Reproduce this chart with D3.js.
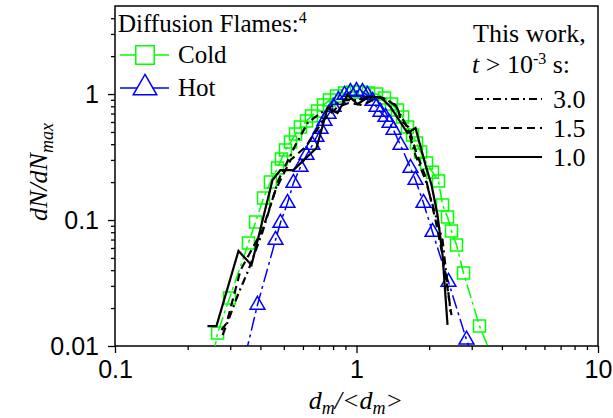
<!DOCTYPE html>
<html>
<head>
<meta charset="utf-8">
<script src="https://cdn.jsdelivr.net/npm/d3@7.9.0/dist/d3.min.js"></script>
<style>
  html, body { margin: 0; padding: 0; background: #fff; }
  svg { display: block; }
  .tick text { font-family: "Liberation Sans", Arial, sans-serif; font-size: 25px; fill: #000; }
  .serif { font-family: "Liberation Serif", "Times New Roman", serif; fill: #000; }
</style>
</head>
<body>
<svg id="chart" width="613" height="418"></svg>
<script>
// Diffusion flames (ref. 4)
const coldX = [0.256, 0.266, 0.298, 0.357, 0.382, 0.412, 0.440, 0.471, 0.489, 0.508, 0.533, 0.559, 0.586, 0.621, 0.651,
  0.690, 0.730, 0.773, 0.826, 0.892, 0.963, 1.039, 1.121, 1.210, 1.306, 1.396, 1.478, 1.551, 1.626, 1.706, 1.772,
  1.841, 1.950, 2.064, 2.185, 2.271, 2.382, 2.474, 2.595, 2.774, 3.231, 3.59];
const coldY = [0.0085, 0.0127, 0.0240, 0.0657, 0.0964, 0.1495, 0.200, 0.259, 0.305, 0.359, 0.416, 0.481, 0.547, 0.611, 0.669,
  0.733, 0.818, 0.896, 0.964, 1.018, 1.037, 1.037, 1.018, 1.0, 0.930, 0.833, 0.746, 0.657, 0.547, 0.473, 0.408,
  0.347, 0.283, 0.240, 0.204, 0.1315, 0.1056, 0.0818, 0.0633, 0.0380, 0.0144, 0.0088];
const hotX = [0.347, 0.389, 0.462, 0.484, 0.518, 0.548, 0.586, 0.621, 0.657, 0.683, 0.710, 0.737, 0.766, 0.803, 0.842,
  0.892, 0.944, 1.0, 1.059, 1.110, 1.165, 1.210, 1.257, 1.318, 1.370, 1.423, 1.521, 1.673, 1.755, 1.894, 2.064,
  2.404, 2.855, 3.05];
const hotY = [0.0085, 0.0212, 0.0694, 0.0947, 0.1364, 0.1966, 0.2634, 0.328, 0.394, 0.456, 0.528, 0.611, 0.694, 0.789, 0.896,
  0.982, 1.037, 1.056, 1.037, 0.982, 0.880, 0.789, 0.720, 0.657, 0.589, 0.518, 0.394, 0.2587, 0.2077, 0.1364, 0.0803,
  0.0322, 0.0112, 0.0077];

// This work, t > 1e-3 s
const t30X = [0.279, 0.325, 0.357, 0.408, 0.475, 0.559, 0.627, 0.710, 0.803, 0.901, 1.01, 1.143, 1.294, 1.450, 1.626,
  1.755, 1.931, 2.124, 2.271, 2.451];
const t30Y = [0.0122, 0.0263, 0.0401, 0.0803, 0.2077, 0.394, 0.589, 0.707, 0.818, 0.896, 0.896, 0.964, 0.930, 0.818, 0.537,
  0.328, 0.2077, 0.1096, 0.0694, 0.0186];
const t15X = [0.276, 0.290, 0.331, 0.408, 0.462, 0.533, 0.615, 0.730, 0.834, 0.927, 1.069, 1.222, 1.344, 1.478, 1.521,
  1.642, 1.755, 1.931, 2.124, 2.271, 2.474];
const t15Y = [0.0134, 0.0152, 0.0401, 0.0833, 0.173, 0.2995, 0.380, 0.622, 0.789, 0.848, 0.818, 0.947, 0.896, 0.789, 0.622,
  0.547, 0.359, 0.2195, 0.1, 0.0528, 0.0176];
const t10X = [0.2415, 0.263, 0.3246, 0.3675, 0.449, 0.484, 0.548, 0.683, 0.759, 0.834, 0.918, 1.01, 1.121, 1.257, 1.383,
  1.626, 1.755, 1.931, 2.045, 2.165, 2.271, 2.382];
const t10Y = [0.0144, 0.0144, 0.0568, 0.0439, 0.2077, 0.249, 0.249, 0.373, 0.774, 0.707, 0.982, 0.833, 0.947, 0.947, 0.789,
  0.490, 0.537, 0.273, 0.1896, 0.1096, 0.0528, 0.0147];

const xMajor = [0.1, 1, 10];
const yMajor = [0.01, 0.1, 1];
const xMinor = [0.2, 0.3, 0.4, 0.5, 0.6, 0.7, 0.8, 0.9, 2, 3, 4, 5, 6, 7, 8, 9];
const yMinor = [0.02, 0.03, 0.04, 0.05, 0.06, 0.07, 0.08, 0.09, 0.2, 0.3, 0.4, 0.5, 0.6, 0.7, 0.8, 0.9, 2, 3, 4];

const GREEN = '#00ff00', BLUE = '#0000ff';

const svg = d3.select('#chart');
const x = d3.scaleLog().domain([0.1, 10]).range([115, 598]);
const y = d3.scaleLog().domain([0.01, 5]).range([346, 6]);

svg.append('clipPath').attr('id', 'plot')
  .append('rect')
  .attr('x', x.range()[0]).attr('y', y.range()[1])
  .attr('width', x.range()[1] - x.range()[0])
  .attr('height', y.range()[0] - y.range()[1]);

// axes
const gx = svg.append('g').attr('transform', `translate(0,${y.range()[0]})`);
gx.call(d3.axisBottom(x).tickValues(xMajor).tickSize(7).tickPadding(7).tickFormat(d3.format('')));
gx.append('g').call(d3.axisBottom(x).tickValues(xMinor).tickSize(4).tickFormat(''));
const gy = svg.append('g').attr('transform', `translate(${x.range()[0]},0)`);
gy.call(d3.axisLeft(y).tickValues(yMajor).tickSize(7).tickPadding(9).tickFormat(d3.format('')));
gy.append('g').call(d3.axisLeft(y).tickValues(yMinor).tickSize(4).tickFormat(''));
svg.selectAll('.domain').remove();
svg.selectAll('.tick line').attr('stroke', '#000').attr('stroke-width', 1.3);

svg.append('rect')
  .attr('x', x.range()[0]).attr('y', y.range()[1])
  .attr('width', x.range()[1] - x.range()[0])
  .attr('height', y.range()[0] - y.range()[1])
  .attr('fill', 'none').attr('stroke', '#000').attr('stroke-width', 1.5);

const plot = svg.append('g').attr('clip-path', 'url(#plot)');
const line = d3.line().x(d => x(d[0])).y(d => y(d[1]));
const zip = (a, b) => a.map((v, i) => [v, b[i]]);

const square = d3.symbol().type(d3.symbolSquare).size(144);
const tri = d3.symbol().type(d3.symbolTriangle).size(95);

function series(xs, ys, color, dash, shape) {
  const pts = zip(xs, ys);
  plot.append('path').datum(pts)
    .attr('d', line).attr('fill', 'none')
    .attr('stroke', color).attr('stroke-width', 1.5)
    .attr('stroke-dasharray', dash);
  plot.append('g').selectAll('path').data(pts).join('path')
    .attr('d', shape)
    .attr('transform', d => `translate(${x(d[0])},${y(d[1])})`)
    .attr('fill', 'none').attr('stroke', color).attr('stroke-width', 1.5);
}
series(coldX, coldY, GREEN, '14,4,3,4', square);
series(hotX, hotY, BLUE, '14,4,3,4', tri);

const work = [
  { xs: t30X, ys: t30Y, dash: '8,4,2,4' },
  { xs: t15X, ys: t15Y, dash: '8,5' },
  { xs: t10X, ys: t10Y, dash: null }
];
work.forEach(w => {
  plot.append('path').datum(zip(w.xs, w.ys))
    .attr('d', line).attr('fill', 'none')
    .attr('stroke', '#000').attr('stroke-width', 2.2)
    .attr('stroke-dasharray', w.dash);
});

// axis titles
const xt = svg.append('text').attr('class', 'serif')
  .attr('x', 356).attr('y', 409).attr('text-anchor', 'middle')
  .style('font-size', '26px').style('font-style', 'italic');
xt.append('tspan').text('d');
xt.append('tspan').attr('dy', 5).style('font-size', '18px').text('m');
xt.append('tspan').attr('dy', -5).text('/<d');
xt.append('tspan').attr('dy', 5).style('font-size', '18px').text('m');
xt.append('tspan').attr('dy', -5).text('>');

const yt = svg.append('text').attr('class', 'serif')
  .attr('transform', 'translate(47,172) rotate(-90)').attr('text-anchor', 'middle')
  .style('font-size', '26px').style('font-style', 'italic');
yt.append('tspan').text('dN/dN');
yt.append('tspan').attr('dy', 6).style('font-size', '18px').text('max');

// left legend
const lg = svg.append('g').attr('class', 'serif').style('font-size', '25px');
const t1 = lg.append('text').attr('x', 118).attr('y', 32);
t1.append('tspan').text('Diffusion Flames:');
t1.append('tspan').attr('dy', -9).style('font-size', '16px').text('4');

const legendRows = [
  { label: 'Cold', color: GREEN, shape: d3.symbol().type(d3.symbolSquare).size(340), y: 55 },
  { label: 'Hot', color: BLUE, shape: d3.symbol().type(d3.symbolTriangle).size(240), y: 88 }
];
legendRows.forEach(r => {
  lg.append('line').attr('x1', 120).attr('x2', 169).attr('y1', r.y).attr('y2', r.y)
    .attr('stroke', r.color).attr('stroke-width', 1.5);
  lg.append('path').attr('d', r.shape).attr('transform', `translate(145,${r.y})`)
    .attr('fill', '#fff').attr('stroke', r.color).attr('stroke-width', 1.5);
  lg.append('text').attr('x', 178).attr('y', r.y + 8).text(r.label);
});

// right legend
const rg = svg.append('g').attr('class', 'serif').style('font-size', '26px');
rg.append('text').attr('x', 473).attr('y', 42).text('This work,');
const t2 = rg.append('text').attr('x', 472).attr('y', 73);
t2.append('tspan').style('font-style', 'italic').text('t');
t2.append('tspan').text(' > 10');
t2.append('tspan').attr('dy', -9).style('font-size', '16px').text('-3');
t2.append('tspan').attr('dy', 9).text(' s:');
const rows = [
  { label: '3.0', dash: '8,4,2,4', y: 99 },
  { label: '1.5', dash: '8,5', y: 128 },
  { label: '1.0', dash: null, y: 157 }
];
rows.forEach(r => {
  rg.append('line').attr('x1', 475).attr('x2', 542).attr('y1', r.y).attr('y2', r.y)
    .attr('stroke', '#000').attr('stroke-width', 2.2).attr('stroke-dasharray', r.dash);
  rg.append('text').attr('x', 553).attr('y', r.y + 9).text(r.label);
});
</script>
</body>
</html>
